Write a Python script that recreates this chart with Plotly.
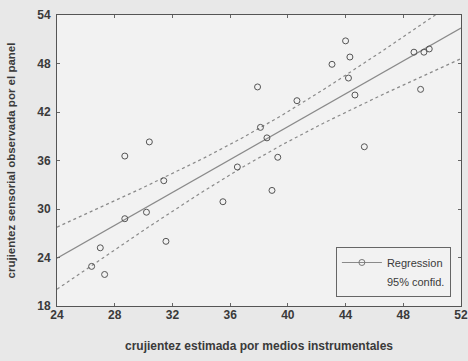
import numpy as np
import plotly.graph_objects as go

# Data
x_instr = [28.7, 30.4, 31.4, 30.2, 28.7, 31.55, 27.0, 26.4, 27.3,
           38.1, 38.55, 39.3, 36.5, 38.9, 35.5,
           44.0, 44.3, 43.06, 44.2, 37.9, 40.63, 44.65,
           48.74, 49.43, 49.8, 49.2, 45.3]
y_panel = [36.55, 38.3, 33.5, 29.6, 28.8, 26.0, 25.2, 22.9, 21.9,
           40.1, 38.8, 36.4, 35.2, 32.3, 30.9,
           50.8, 48.8, 47.9, 46.2, 45.1, 43.4, 44.1,
           49.4, 49.4, 49.8, 44.8, 37.7]
x_ticks = [24, 28, 32, 36, 40, 44, 48, 52]
y_ticks = [18, 24, 30, 36, 42, 48, 54]
t_crit = 2.060  # t(0.975, df=25)

x = np.array(x_instr)
y = np.array(y_panel)
n = len(x)
b1, b0 = np.polyfit(x, y, 1)
resid = y - (b0 + b1 * x)
s = np.sqrt(np.sum(resid ** 2) / (n - 2))
sxx = np.sum((x - x.mean()) ** 2)
xs = np.linspace(x_ticks[0], x_ticks[-1], 200)
ys = b0 + b1 * xs
half = t_crit * s * np.sqrt(1.0 / n + (xs - x.mean()) ** 2 / sxx)

line_col = "#8a8a8a"
txt_col = "#3a3a3a"
bg_col = "#e8e8e8"
font_fam = "Liberation Sans, Arial, sans-serif"

fig = go.Figure()
fig.add_trace(go.Scatter(x=xs, y=ys + half, mode="lines", showlegend=False,
                         line=dict(color=line_col, width=1.2, dash="3px,3px"), hoverinfo="skip"))
fig.add_trace(go.Scatter(x=xs, y=ys - half, mode="lines", showlegend=False,
                         line=dict(color=line_col, width=1.2, dash="3px,3px"), hoverinfo="skip"))
fig.add_trace(go.Scatter(x=xs, y=ys, mode="lines", showlegend=False,
                         line=dict(color=line_col, width=1.3), hoverinfo="skip"))
fig.add_trace(go.Scatter(x=x_instr, y=y_panel, mode="markers", showlegend=False,
                         marker=dict(symbol="circle-open", size=6, color="#555555",
                                     line=dict(width=1))))
# legend entries
fig.add_trace(go.Scatter(x=[None], y=[None], mode="lines+markers", name="Regression",
                         line=dict(color=line_col, width=1.2),
                         marker=dict(symbol="circle-open", size=6, color="#777777")))
fig.add_trace(go.Scatter(x=[None], y=[None], mode="lines", name="95% confid.",
                         line=dict(color="rgba(0,0,0,0)", width=1)))

fig.update_layout(
    width=468, height=361,
    margin=dict(l=57, r=7, t=15, b=55),
    paper_bgcolor=bg_col,
    plot_bgcolor="#f2f2f2",
    font=dict(family=font_fam, size=12, color=txt_col, weight="bold"),
    legend=dict(x=0.975, y=0.031, xanchor="right", yanchor="bottom",
                bgcolor="#f2f2f2", bordercolor="#666666", borderwidth=1,
                font=dict(size=11, color=txt_col, weight="normal"),
                tracegroupgap=0, itemwidth=40),
    xaxis=dict(range=[24, 52], tickvals=x_ticks, ticktext=[str(v) for v in x_ticks],
               automargin=False,
               showgrid=False, zeroline=False, showline=True, linecolor="#555555",
               linewidth=1, mirror="ticks", ticks="inside", ticklen=3, tickcolor="#666666",
               tickfont=dict(size=12, weight="bold"), ticklabelstandoff=-2,
               title=dict(text="crujientez estimada por medios instrumentales",
                          font=dict(size=12, weight="bold"), standoff=20)),
    yaxis=dict(range=[18, 54], tickvals=y_ticks, ticktext=[str(v) for v in y_ticks],
               automargin=False,
               showgrid=False, zeroline=False, showline=True, linecolor="#555555",
               linewidth=1, mirror="ticks", ticks="inside", ticklen=3, tickcolor="#666666",
               tickfont=dict(size=12, weight="bold"), ticklabelstandoff=3,
               title=dict(text="crujientez sensorial observada por el panel",
                          font=dict(size=11.5, weight="bold"), standoff=19)),
)
fig.write_html(
    "out.html",
    config={"displayModeBar": False},
    post_script="document.body.style.margin='0';document.body.style.background='%s';" % bg_col,
)
